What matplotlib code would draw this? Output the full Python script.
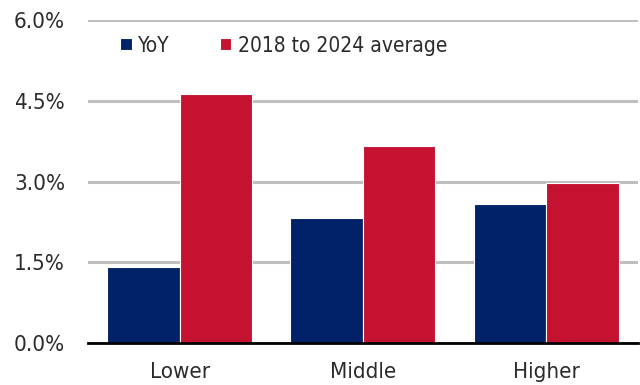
import numpy as np
import matplotlib.pyplot as plt
from matplotlib.ticker import FuncFormatter

# data
categories = ["Lower", "Middle", "Higher"]
yoy = [1.41, 2.32, 2.58]
avg_2018_2024 = [4.63, 3.66, 2.98]
series_names = ["YoY", "2018 to 2024 average"]
yticks = [0.0, 1.5, 3.0, 4.5, 6.0]

navy = "#012169"
red = "#C41230"
txt = "#2b2b2b"

plt.rcParams['font.family'] = ['DejaVu Sans']
plt.rcParams['font.stretch'] = 'condensed'

fig = plt.figure(figsize=(6.4, 3.85), dpi=100)
ax = fig.add_axes([0.1375, 0.109, 0.859, 0.839])

x = np.arange(len(categories))
w = 0.395
ax.bar(x - w / 2, yoy, w, color=navy, edgecolor="white", linewidth=0.8, label=series_names[0], zorder=3)
ax.bar(x + w / 2, avg_2018_2024, w, color=red, edgecolor="white", linewidth=0.8, label=series_names[1], zorder=3)

ax.set_xlim(-0.5, len(categories) - 0.5)
ax.set_ylim(0, 6.0)
ax.set_yticks(yticks)
ax.yaxis.set_major_formatter(FuncFormatter(lambda v, p: f"{v:.1f}%"))
ax.set_xticks(x)
ax.set_xticklabels(categories)
ax.tick_params(axis="both", length=0, labelsize=16, colors=txt)
ax.tick_params(axis="y", pad=16.5)
ax.tick_params(axis="x", pad=14)

ax.grid(axis="y", color="#BFBFBF", linewidth=2.2, zorder=0)
ax.set_axisbelow(True)
for s in ["top", "right", "left"]:
    ax.spines[s].set_visible(False)
ax.spines["bottom"].set_color("black")
ax.spines["bottom"].set_linewidth(2)
ax.spines["bottom"].set_zorder(4)

leg = ax.legend(loc="upper left", bbox_to_anchor=(0.025, 1.01), ncol=2, frameon=False,
                fontsize=15, handlelength=0.55, handleheight=0.55, handletextpad=0.3,
                columnspacing=2.4, labelcolor=txt)

fig.savefig("out.png", dpi=100)
